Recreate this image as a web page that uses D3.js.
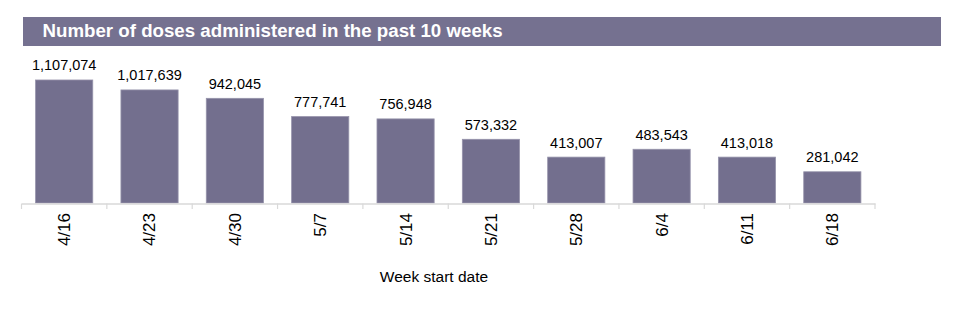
<!DOCTYPE html>
<html><head><meta charset="utf-8">
<script src="https://cdn.jsdelivr.net/npm/d3@7"></script>
<style>body{margin:0;background:#fff;} svg{display:block;}</style>
</head><body>
<svg id="c" width="965" height="322"></svg>
<script>
const categories = ["4/16","4/23","4/30","5/7","5/14","5/21","5/28","6/4","6/11","6/18"];
const doses = [1107074,1017639,942045,777741,756948,573332,413007,483543,413018,281042];
const titleText = "Number of doses administered in the past 10 weeks";
const xAxisTitle = "Week start date";

const svg = d3.select("#c");
const font = "'Liberation Sans', Arial, sans-serif";

svg.append("rect").attr("x",23).attr("y",17).attr("width",918).attr("height",29).attr("fill","#757190");
svg.append("text").attr("x",42.5).attr("y",37).attr("fill","#fff").attr("font-family",font)
  .attr("font-size",18.7).attr("font-weight","bold").text(titleText);

const x = d3.scaleBand().domain(categories).range([21.5,875]).paddingInner(0.33).paddingOuter(0.165);
const y = d3.scaleLinear().domain([0,1200000]).range([203,203-1200000/9000]);

svg.append("g").selectAll("rect").data(doses).join("rect")
  .attr("x",(d,i)=>x(categories[i])).attr("width",x.bandwidth())
  .attr("y",d=>y(d)).attr("height",d=>y(0)-y(d))
  .attr("fill","#736f8e").attr("stroke","#9693ab").attr("stroke-width",0.8);

svg.append("g").selectAll("text").data(doses).join("text")
  .attr("x",(d,i)=>x(categories[i])+x.bandwidth()/2).attr("y",d=>y(d)-9.5)
  .attr("text-anchor","middle").attr("font-family",font).attr("font-size",14.5).attr("fill","#000")
  .text(d=>d3.format(",")(d));

const xb = d3.scaleBand().domain(categories).range([21.5,875]);
const ax = svg.append("g").attr("transform","translate(0,203.5)")
  .call(d3.axisBottom(xb).tickSize(0).tickSizeOuter(0));
ax.select(".domain").attr("stroke","#d9d9d9").attr("stroke-width",1.5);
ax.selectAll(".tick text").attr("font-family",font).attr("font-size",17).attr("fill","#000")
  .attr("transform","rotate(-90)").attr("text-anchor","end").attr("x",-9.5).attr("y",0).attr("dy","0.35em");
// boundary ticks
const bounds = categories.map(c=>xb(c)).concat([xb.range()[1]]);
svg.append("g").selectAll("line").data(bounds).join("line")
  .attr("x1",d=>d).attr("x2",d=>d).attr("y1",203.5).attr("y2",209)
  .attr("stroke","#d9d9d9").attr("stroke-width",1.2);

svg.append("text").attr("x",434).attr("y",281.5).attr("text-anchor","middle")
  .attr("font-family",font).attr("font-size",15.5).attr("fill","#000").text(xAxisTitle);
</script>
</body></html>
